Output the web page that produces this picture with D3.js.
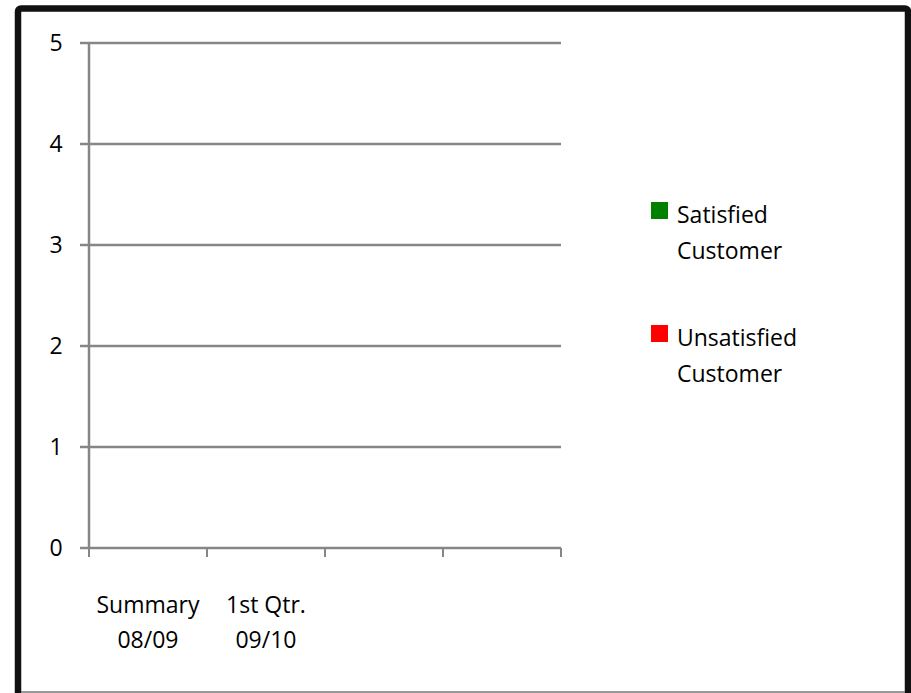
<!DOCTYPE html>
<html>
<head>
<meta charset="utf-8">
<script src="https://cdn.jsdelivr.net/npm/d3@7"></script>
<style>
  body { margin: 0; background: #fff; }
  svg { display: block; font-family: "Open Sans", Lato, sans-serif; font-variant-ligatures: none; }
</style>
</head>
<body>
<script>
// data (the chart has no visible bars)
var categories = [["Summary", "08/09"], ["1st Qtr.", "09/10"], [""], [""]];
var seriesNames = [["Satisfied", "Customer"], ["Unsatisfied", "Customer"]];
var seriesColors = ["#008000", "#ff0000"];
var satisfied = [0, 0, 0, 0];
var unsatisfied = [0, 0, 0, 0];
var yTicks = [0, 1, 2, 3, 4, 5];

var w = 911, h = 693;
var svg = d3.select('body').append('svg').attr('width', w).attr('height', h);

// outer frame
svg.append('rect')
  .attr('x', 18).attr('y', 8.5)
  .attr('width', 890).attr('height', 690)
  .attr('rx', 3)
  .attr('fill', 'white')
  .attr('stroke', '#111')
  .attr('stroke-width', 6.5);
svg.append('line')
  .attr('x1', 21).attr('x2', 905).attr('y1', 692).attr('y2', 692)
  .attr('stroke', '#777').attr('stroke-width', 1.5);

var pLeft = 89, pRight = 561, pTop = 43, pBottom = 548;

var x = d3.scaleBand().domain(d3.range(categories.length)).range([pLeft, pRight]);
var y = d3.scaleLinear().domain([0, 5]).range([pBottom, pTop]);

// gridlines
svg.selectAll('.grid')
  .data(yTicks)
  .enter()
  .append('line')
  .attr('x1', pLeft - 9).attr('x2', pRight)
  .attr('y1', function(d){ return y(d); })
  .attr('y2', function(d){ return y(d); })
  .attr('stroke', '#868686')
  .attr('stroke-width', 2.5);

// y axis line
svg.append('line')
  .attr('x1', pLeft).attr('x2', pLeft)
  .attr('y1', pTop).attr('y2', pBottom + 1)
  .attr('stroke', '#868686').attr('stroke-width', 2.5);

// x ticks
svg.selectAll('.xtick')
  .data(d3.range(categories.length + 1))
  .enter()
  .append('line')
  .attr('x1', function(d){ return pLeft + d * x.bandwidth(); })
  .attr('x2', function(d){ return pLeft + d * x.bandwidth(); })
  .attr('y1', pBottom).attr('y2', pBottom + 9)
  .attr('stroke', '#868686').attr('stroke-width', 2);

// y labels
svg.selectAll('.ylab')
  .data(yTicks)
  .enter()
  .append('text')
  .text(function(d){ return d; })
  .attr('x', 56)
  .attr('y', function(d){ return y(d) + 8; })
  .attr('text-anchor', 'middle')
  .attr('font-size', '23px')
  .attr('fill', '#000');

// bars (all zero)
var sub = d3.scaleBand().domain([0, 1]).range([0, x.bandwidth()]).padding(0.2);
[satisfied, unsatisfied].forEach(function(vals, si){
  svg.selectAll('.bar' + si)
    .data(vals)
    .enter()
    .append('rect')
    .attr('x', function(d, i){ return x(i) + sub(si); })
    .attr('y', function(d){ return y(d); })
    .attr('width', sub.bandwidth())
    .attr('height', function(d){ return y(0) - y(d); })
    .attr('fill', seriesColors[si]);
});

// category labels
var cat = svg.selectAll('.cat')
  .data(categories)
  .enter()
  .append('text')
  .attr('text-anchor', 'middle')
  .attr('font-size', '23px')
  .attr('fill', '#000');
cat.selectAll('tspan')
  .data(function(d, i){ return d.map(function(s){ return {s: s, i: i}; }); })
  .enter()
  .append('tspan')
  .attr('x', function(d){ return x(d.i) + x.bandwidth() / 2; })
  .attr('y', function(d, j){ return 613 + j * 35; })
  .text(function(d){ return d.s; });

// legend
var leg = svg.selectAll('.leg')
  .data(seriesNames)
  .enter()
  .append('g')
  .attr('transform', function(d, i){ return 'translate(651,' + (202 + i * 123) + ')'; });
leg.append('rect')
  .attr('width', 17).attr('height', 17)
  .attr('fill', function(d, i){ return seriesColors[i]; });
leg.append('text')
  .attr('font-size', '23px')
  .attr('fill', '#000')
  .selectAll('tspan')
  .data(function(d){ return d; })
  .enter()
  .append('tspan')
  .attr('x', 26)
  .attr('y', function(d, j){ return 21 + j * 36; })
  .text(function(d){ return d; });
</script>
</body>
</html>
